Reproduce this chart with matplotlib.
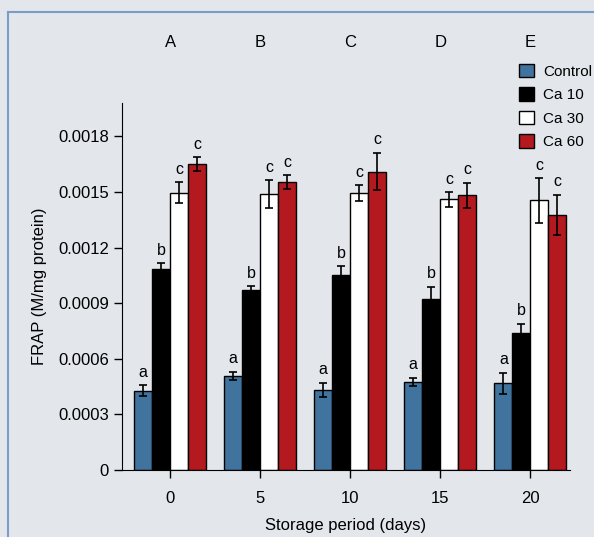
import numpy as np
import matplotlib
matplotlib.use("Agg")
import matplotlib.pyplot as plt
from matplotlib.lines import Line2D

plt.rcParams["font.family"] = ["Liberation Sans", "DejaVu Sans"]

days = [0, 5, 10, 15, 20]
panels = ["A", "B", "C", "D", "E"]
series = ["Control", "Ca 10", "Ca 30", "Ca 60"]
colors = ["#41739f", "#000000", "#ffffff", "#b3191f"]
letters = ["a", "b", "c", "c"]

control = [0.000427, 0.000508, 0.000432, 0.000477, 0.000468]
ca10 = [0.001086, 0.000971, 0.001054, 0.000922, 0.000737]
ca30 = [0.001495, 0.001488, 0.001495, 0.001460, 0.001454]
ca60 = [0.001650, 0.001553, 0.001610, 0.001483, 0.001377]

control_err = [0.000030, 0.000022, 0.000038, 0.000022, 0.000058]
ca10_err = [0.000030, 0.000020, 0.000045, 0.000068, 0.000052]
ca30_err = [0.000057, 0.000074, 0.000042, 0.000039, 0.000120]
ca60_err = [0.000036, 0.000038, 0.000100, 0.000068, 0.000108]

values = [control, ca10, ca30, ca60]
errors = [control_err, ca10_err, ca30_err, ca60_err]

bg = "#e3e6eb"
fig = plt.figure(figsize=(5.94, 5.37), dpi=100, facecolor=bg)
# blue frame line at left and top
fig.add_artist(Line2D([8/594, 8/594], [0, 1 - 12/537], color="#7b9dc7", lw=1.5))
fig.add_artist(Line2D([8/594, 1], [1 - 12/537, 1 - 12/537], color="#7b9dc7", lw=1.5))

ax = fig.add_axes([122/594, 1 - 470/537, 448/594, 367/537])
ax.set_facecolor(bg)

x = np.array(days, dtype=float)
offsets = [-1.5, -0.5, 0.5, 1.5]
for i in range(4):
    ax.bar(x + offsets[i], values[i], width=1.0, color=colors[i],
           edgecolor="black", linewidth=1.0,
           yerr=errors[i], error_kw=dict(ecolor="black", elinewidth=1.2, capsize=3, capthick=1.2),
           label=series[i], zorder=2)
    for xi, v, e in zip(x + offsets[i], values[i], errors[i]):
        ax.text(xi, v + e + 0.00003, letters[i], ha="center", va="bottom", fontsize=11.5)

ax.set_xlim(-2.67, 22.2)
ax.set_ylim(0, 0.00198)
ax.set_xticks(days)
ax.set_yticks([0, 0.0003, 0.0006, 0.0009, 0.0012, 0.0015, 0.0018])
ax.set_yticklabels(["0", "0.0003", "0.0006", "0.0009", "0.0012", "0.0015", "0.0018"])
ax.tick_params(labelsize=12, length=6, width=1)
ax.tick_params(axis="x", pad=9)
ax.spines["top"].set_visible(False)
ax.spines["right"].set_visible(False)
ax.set_xlabel("Storage period (days)", fontsize=12, labelpad=9)
ax.set_ylabel("FRAP (M/mg protein)", fontsize=12, labelpad=8)

for d, p in zip(days, panels):
    ax.text(d, 1.166, p, transform=ax.get_xaxis_transform(), ha="center", va="center", fontsize=12)

fig.legend(loc="upper right", bbox_to_anchor=(1.02, 1 - 50/537), frameon=False,
           fontsize=11, handlelength=1.0, handleheight=1.0, handletextpad=0.6, labelspacing=0.55)

fig.savefig("out.png", dpi=100, facecolor=bg)
